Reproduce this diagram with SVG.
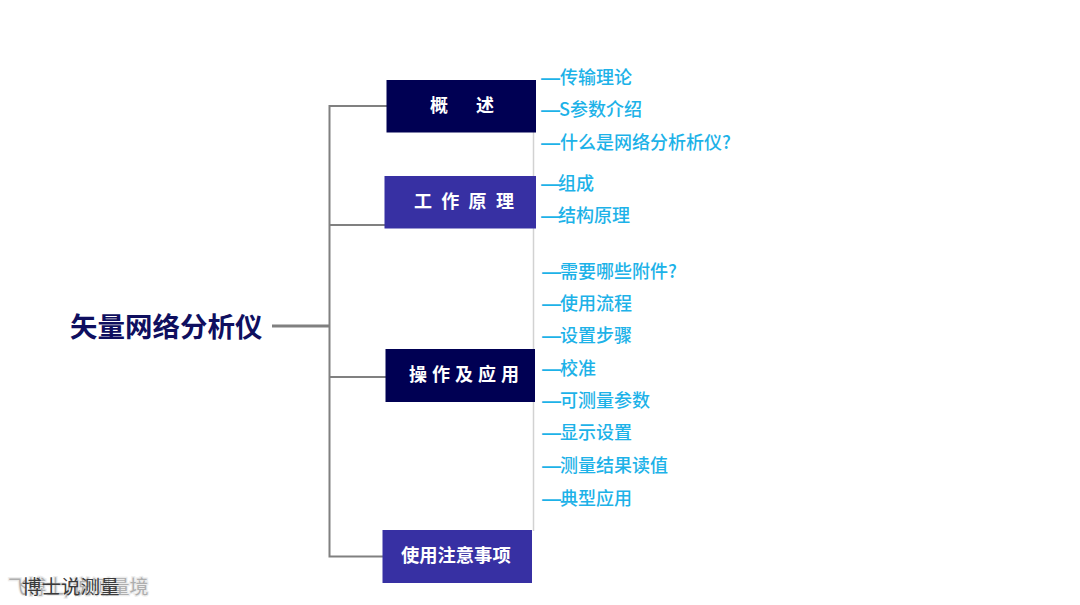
<svg xmlns="http://www.w3.org/2000/svg" width="1080" height="605" viewBox="0 0 1080 605">
<style>
text{font-family:"Noto Sans CJK SC","Noto Sans",sans-serif}
.n{fill:#000053}.p{fill:#3730a3}
.bt{fill:#fff;font-size:18px;font-weight:700}
.t{fill:#1db2e8;font-size:18px;font-weight:500}
.d{font-family:"Liberation Sans",sans-serif;font-size:19px;font-weight:700}
.c{fill:none;stroke:#808080;stroke-width:2}
</style>
<rect width="1080" height="605" fill="#fff"/>
<g id="connectors">
<path d="M272 326H329" fill="none" stroke="#808080" stroke-width="3"/>
<path class="c" d="M387 106H329.500V556.500H383M329.500 225H385M329.500 377H386"/>
<path d="M533.500 132V531" fill="none" stroke="#d2d2d2" stroke-width="1.500"/>
</g>
<g id="root"><text x="70" y="337" font-size="27.500" font-weight="700" fill="#0f0f5f">矢量网络分析仪</text></g>
<g id="node-overview"><rect class="n" x="386.500" y="80" width="149.500" height="52.500"/><text class="bt" y="112"><tspan x="430">概</tspan><tspan x="476">述</tspan></text></g>
<g id="node-principle"><rect class="p" x="384.500" y="176" width="151.500" height="52.500"/><text class="bt" x="414" y="208" letter-spacing="9.300">工作原理</text></g>
<g id="node-operation"><rect class="n" x="385.500" y="349" width="149.500" height="53"/><text class="bt" x="409" y="381" letter-spacing="5">操作及应用</text></g>
<g id="node-notes"><rect class="p" x="382.500" y="530" width="149.500" height="53"/><text class="bt" x="401" y="562" style="font-size:18.300px">使用注意事项</text></g>
<g id="items">
<text class="t" y="84"><tspan class="d" x="541">—</tspan><tspan x="560">传输理论</tspan></text>
<text class="t" y="116"><tspan class="d" x="541">—</tspan><tspan x="559">S参数介绍</tspan></text>
<text class="t" y="149"><tspan class="d" x="541">—</tspan><tspan x="560">什么是网络分析析仪?</tspan></text>
<text class="t" y="190"><tspan class="d" x="541">—</tspan><tspan x="558">组成</tspan></text>
<text class="t" y="222"><tspan class="d" x="541">—</tspan><tspan x="558">结构原理</tspan></text>
<text class="t" y="277.500"><tspan class="d" x="542">—</tspan><tspan x="560">需要哪些附件?</tspan></text>
<text class="t" y="310"><tspan class="d" x="542">—</tspan><tspan x="560">使用流程</tspan></text>
<text class="t" y="342"><tspan class="d" x="542">—</tspan><tspan x="560">设置步骤</tspan></text>
<text class="t" y="374.500"><tspan class="d" x="542">—</tspan><tspan x="560">校准</tspan></text>
<text class="t" y="407"><tspan class="d" x="542">—</tspan><tspan x="560">可测量参数</tspan></text>
<text class="t" y="439"><tspan class="d" x="542">—</tspan><tspan x="560">显示设置</tspan></text>
<text class="t" y="472"><tspan class="d" x="542">—</tspan><tspan x="560">测量结果读值</tspan></text>
<text class="t" y="505"><tspan class="d" x="542">—</tspan><tspan x="560">典型应用</tspan></text>
</g>
<g id="watermark">
<text x="8" y="594" font-size="19" fill="#aeaeae" stroke="#ececec" stroke-width="2.500" paint-order="stroke">飞博士/说测量境</text>
<text x="22" y="594" font-size="19.500" fill="#3a3a3a">博士说测量</text>
</g>
</svg>
